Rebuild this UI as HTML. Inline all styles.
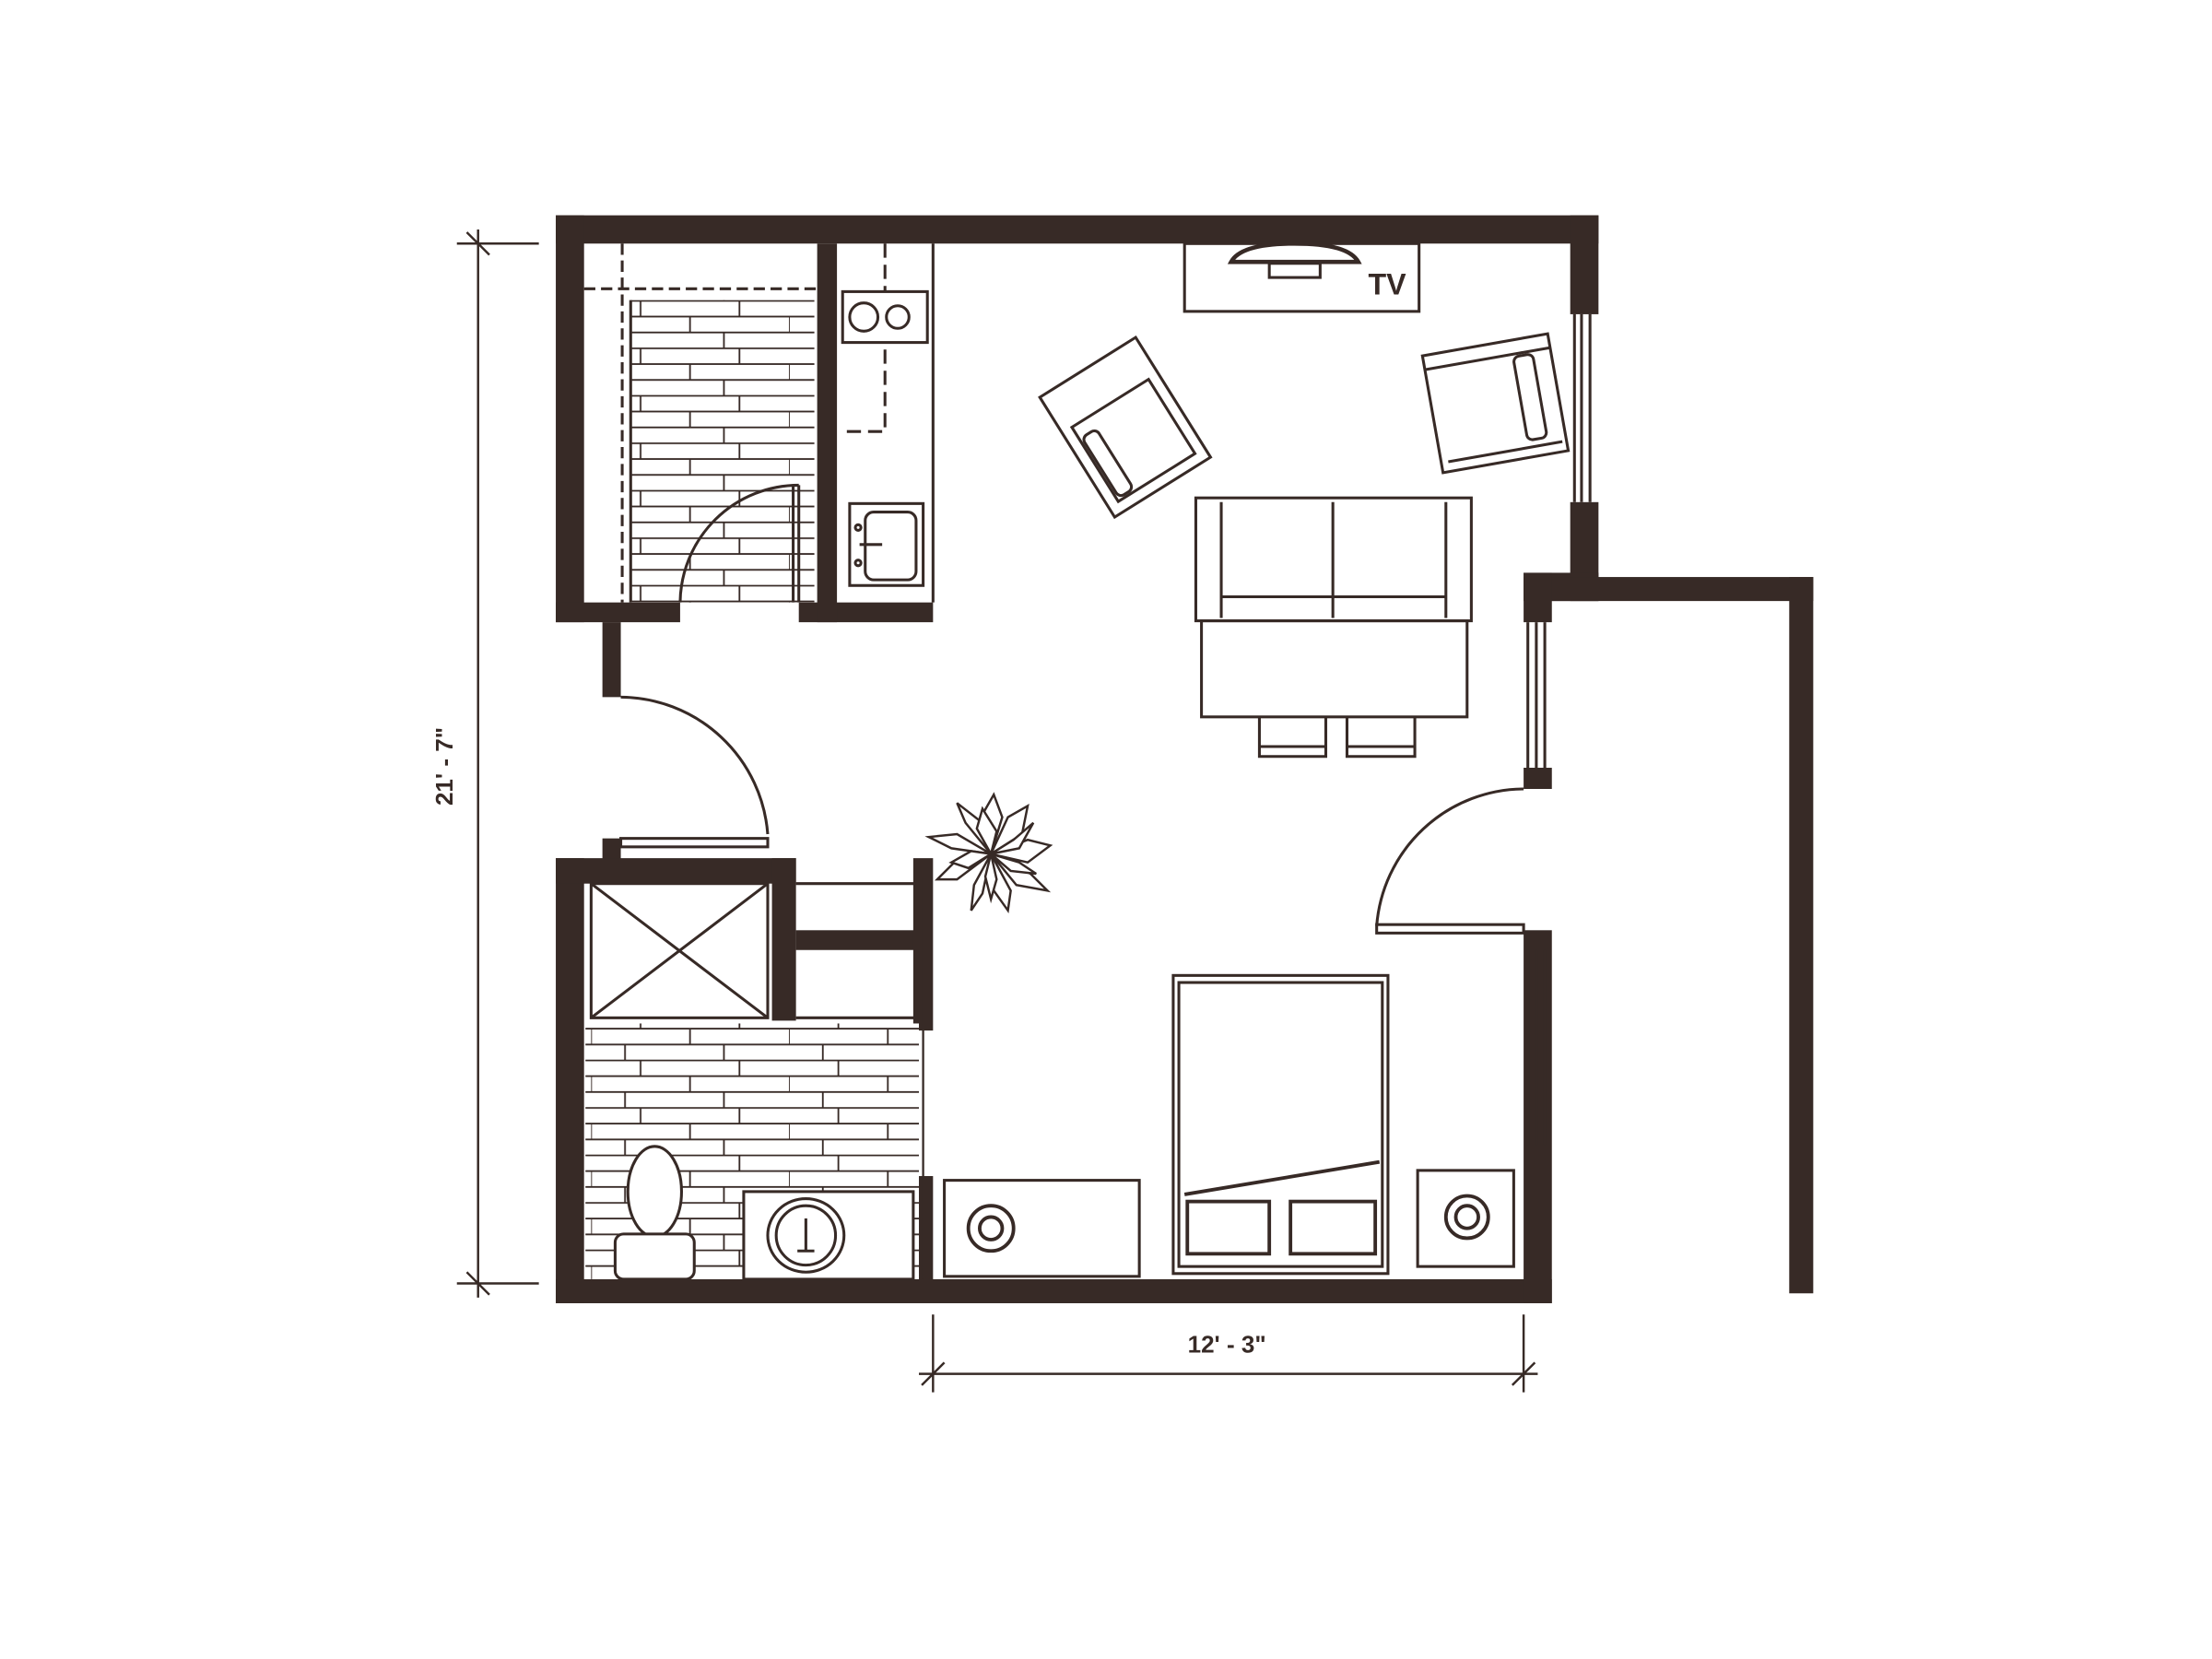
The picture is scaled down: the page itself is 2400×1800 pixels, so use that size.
<!DOCTYPE html>
<html><head><meta charset="utf-8"><style>html,body{margin:0;padding:0;background:#fff}svg{display:block}</style></head>
<body>
<svg width="2400" height="1800" viewBox="0 0 1552 1164" xmlns="http://www.w3.org/2000/svg">
<defs>
<pattern id="brick" patternUnits="userSpaceOnUse" width="140" height="33.6" x="0" y="212">
<rect width="140" height="33.6" fill="#fff"/>
<path d="M0 0.5H140M0 11.7H140M0 22.9H140M35 0.5V11.7M105 0.5V11.7M0 11.7V22.9M70 11.7V22.9M24 22.9V33.6M94 22.9V33.6" stroke="#372a26" stroke-width="1.2" fill="none"/>
</pattern>
</defs>
<rect width="1552" height="1164" fill="#fff"/>
<g transform="translate(-1.6 0.4) scale(0.9913)">
<g fill="#372a26">
<rect x="395" y="152" width="738" height="20"/>
<rect x="395" y="152" width="20" height="288"/>
<rect x="395" y="426" width="88" height="14"/>
<rect x="567" y="426" width="95" height="14"/>
<rect x="580" y="172" width="14" height="268"/>
<rect x="428" y="440" width="13" height="53"/>
<rect x="428" y="593" width="13" height="16"/>
<rect x="395" y="607" width="20" height="315"/>
<rect x="395" y="607" width="170" height="18"/>
<rect x="548" y="607" width="17" height="115"/>
<rect x="565" y="658" width="85" height="14"/>
<rect x="648" y="607" width="14" height="122"/>
<rect x="648" y="832" width="14" height="80"/>
<rect x="395" y="905" width="705" height="17"/>
<rect x="1080" y="658" width="20" height="264"/>
<rect x="1113" y="152" width="20" height="70"/>
<rect x="1113" y="355" width="20" height="70"/>
<rect x="1080" y="405" width="53" height="20"/>
<rect x="1080" y="408" width="205" height="17"/>
<rect x="1268" y="408" width="17" height="507"/>
<rect x="1080" y="405" width="20" height="35"/>
<rect x="1080" y="543" width="20" height="15"/>
</g>
<g fill="none" stroke="#372a26" stroke-width="2">
<path d="M1116 222V355M1121 222V355M1127 222V355"/>
<path d="M1083 440V543M1089 440V543M1095 440V543"/>
<path d="M1083 672V810M1089 672V810M1095 672V810"/>
<rect x="448" y="212" width="130" height="214" fill="url(#brick)" stroke="none"/>
<path d="M448 212V426"/>
<path d="M442 172V426" stroke-dasharray="8 4"/>
<path d="M415 204H580" stroke-dasharray="8 4"/>
<path d="M567 343V426"/>
<path d="M563 343V426"/>
<path d="M567 343A84 84 0 0 0 483 426"/>
<path d="M662 172V426"/>
<path d="M628 172V305H596" stroke-dasharray="10 5"/>
<rect x="598" y="206" width="60" height="36" fill="#fff"/>
<circle cx="613" cy="224" r="10"/><circle cx="637" cy="224" r="8"/>
<rect x="603" y="356" width="52" height="58" fill="#fff"/>
<rect x="614" y="362" width="36" height="48" rx="6"/>
<circle cx="609" cy="373" r="2"/><circle cx="609" cy="398" r="2"/>
<path d="M610 385H626"/>
<path d="M441 493A105 105 0 0 1 545 590"/>
<rect x="441" y="593" width="104" height="6"/>
<path d="M1080 558A105 105 0 0 0 976 655"/>
<rect x="976" y="654" width="104" height="6"/>
<rect x="840" y="172" width="166" height="48"/>
<path d="M873 185Q880 172 918 172Q956 172 963 185Z" stroke-width="3"/>
<rect x="900" y="186" width="36" height="10"/>
<text x="970" y="208" font-family="Liberation Sans, sans-serif" font-weight="bold" font-size="21" fill="#372a26" stroke="none">TV</text>
<g transform="translate(798 302) rotate(-32)">
<rect x="-40" y="-50" width="80" height="100"/>
<rect x="-32" y="-20" width="64" height="62"/>
<rect x="-30" y="-10" width="12" height="50" rx="4"/>
</g>
<g transform="translate(1060 285) rotate(-10)">
<rect x="-45" y="-42" width="90" height="84"/>
<path d="M-45 -32H45M-40 35H42"/>
<rect x="18" y="-30" width="14" height="60" rx="4"/>
</g>
<rect x="848" y="352" width="195" height="87"/>
<path d="M866 355V437M1025 355V437M866 422H1025M945 355V437"/>
<rect x="852" y="439" width="188" height="68"/>
<path d="M893 507V535H940V507M893 528H940M955 507V535H1003V507M955 528H1003"/>
<rect x="420" y="625" width="125" height="95"/>
<path d="M420 625L545 720M545 625L420 720"/>
<path d="M565 625H650M565 720H650"/>
<path d="M655 620V905" stroke-width="1.5"/>
<rect x="416" y="724" width="236" height="181" fill="url(#brick)" stroke="none"/>
<ellipse cx="465" cy="843" rx="19" ry="32" fill="#fff"/>
<rect x="437" y="873" width="56" height="32" rx="6" fill="#fff"/>
<rect x="528" y="843" width="120" height="62" fill="#fff"/>
<ellipse cx="572" cy="874" rx="27" ry="26"/>
<ellipse cx="572" cy="874" rx="21" ry="21"/>
<path d="M572 862V884M566 885H578"/>
<g transform="translate(703 604)" stroke-width="1.6" fill="#fff">
<path d="M0 0L-6 -28L2 -42L8 -26Z"/>
<path d="M0 0L12 -26L26 -34L22 -14Z"/>
<path d="M0 0L26 -10L42 -6L26 6Z"/>
<path d="M0 0L28 14L40 26L18 22Z"/>
<path d="M0 0L14 26L12 40L2 26Z"/>
<path d="M0 0L-6 28L-14 40L-12 22Z"/>
<path d="M0 0L-24 18L-38 18L-26 6Z"/>
<path d="M0 0L-28 -4L-44 -12L-24 -14Z"/>
<path d="M0 0L-18 -22L-24 -36L-6 -22Z"/>
<path d="M0 0L-10 -18L-6 -32L4 -16Z"/>
<path d="M0 0L16 -10L30 -22L20 -4Z"/>
<path d="M0 0L20 6L32 14L14 12Z"/>
<path d="M0 0L4 18L0 32L-4 16Z"/>
<path d="M0 0L-16 10L-28 6L-14 -2Z"/>
</g>
<rect x="670" y="835" width="138" height="68"/>
<circle cx="703" cy="869" r="16" stroke-width="2.5"/><circle cx="703" cy="869" r="8" stroke-width="2.5"/>
<rect x="832" y="690" width="152" height="211"/>
<rect x="836" y="695" width="144" height="201"/>
<path d="M840 845L978 822" stroke-width="2.5"/>
<rect x="842" y="850" width="58" height="37" stroke-width="2.5"/>
<rect x="915" y="850" width="60" height="37" stroke-width="2.5"/>
<rect x="1005" y="828" width="68" height="68"/>
<circle cx="1040" cy="861" r="15" stroke-width="2.5"/><circle cx="1040" cy="861" r="8" stroke-width="2.5"/>
<path d="M340 162V918M325 172H383M325 908H383M332 164L348 180M332 900L348 916" stroke-width="1.6"/>
<path d="M652 972H1090M662 930V985M1080 930V985M654 980L670 964M1072 980L1088 964" stroke-width="1.6"/>
</g>
<text x="322" y="542" transform="rotate(-90 322 542)" text-anchor="middle" font-family="Liberation Sans, sans-serif" font-weight="bold" font-size="17" fill="#372a26">21' - 7"</text>
<text x="870" y="957" text-anchor="middle" font-family="Liberation Sans, sans-serif" font-weight="bold" font-size="17" fill="#372a26">12' - 3"</text>
</g>
</svg>
</body></html>
